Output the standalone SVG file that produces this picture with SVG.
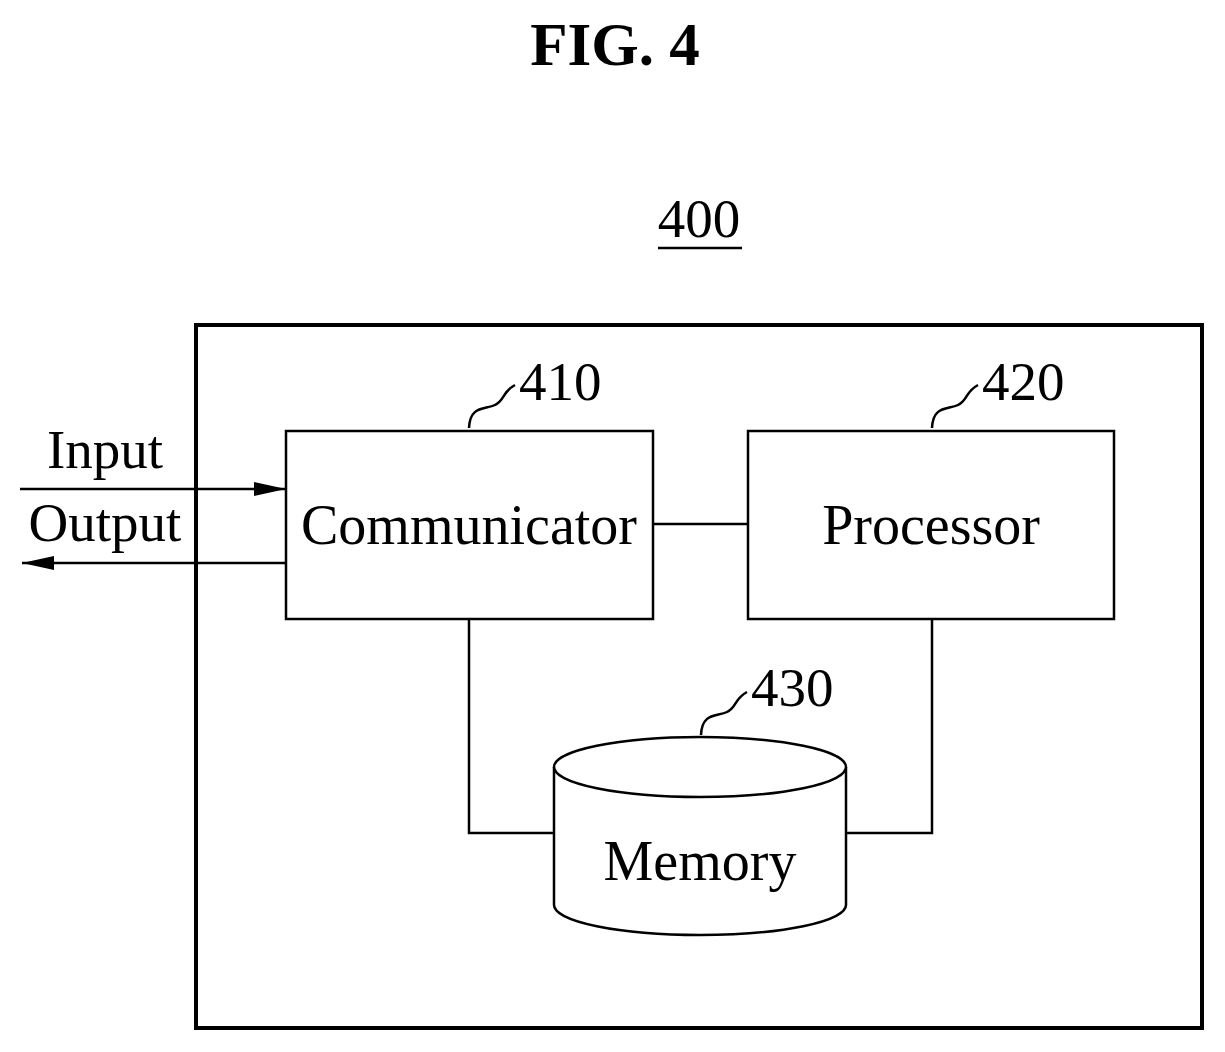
<svg xmlns="http://www.w3.org/2000/svg" width="1225" height="1052" viewBox="0 0 1225 1052">
<defs>
<style>
text{font-family:"Liberation Serif",serif;fill:#000}
.b{fill:#fff;stroke:#000;stroke-width:2.5}
.l{fill:none;stroke:#000;stroke-width:2.5}
</style>
<marker id="am" viewBox="0 0 32 14" refX="32" refY="7" markerWidth="32" markerHeight="14" markerUnits="userSpaceOnUse" orient="auto"><path d="M0,0L32,7L0,14z" fill="#000"/></marker>
</defs>
<rect width="1225" height="1052" fill="#fff"/>
<text x="615" y="65" font-size="61" font-weight="bold" text-anchor="middle">FIG. 4</text>
<text x="699" y="237" font-size="55" text-anchor="middle">400</text>
<line x1="658" y1="248" x2="742" y2="248" class="l"/>
<rect x="196" y="325" width="1006" height="703" fill="none" stroke="#000" stroke-width="4"/>
<g id="connectors">
<line x1="20" y1="489" x2="286" y2="489" class="l" marker-end="url(#am)"/>
<line x1="286" y1="563" x2="22" y2="563" class="l" marker-end="url(#am)"/>
<line x1="653" y1="524" x2="748" y2="524" class="l"/>
<polyline points="469,619 469,833 554,833" class="l"/>
<polyline points="932,619 932,833 846,833" class="l"/>
</g>
<text x="105" y="468" font-size="55" text-anchor="middle">Input</text>
<text x="105" y="541" font-size="55" text-anchor="middle">Output</text>
<g id="communicator">
<rect x="286" y="431" width="367" height="188" class="b"/>
<text x="469" y="544" font-size="56" text-anchor="middle">Communicator</text>
<path d="M469,428 C470,405 485,410 495,405 C505,400 502,392 515,385" class="l"/>
<text x="519" y="400" font-size="55">410</text>
</g>
<g id="processor">
<rect x="748" y="431" width="366" height="188" class="b"/>
<text x="931" y="544" font-size="56" text-anchor="middle">Processor</text>
<path d="M932,428 C933,405 948,410 958,405 C968,400 965,392 978,385" class="l"/>
<text x="982" y="400" font-size="55">420</text>
</g>
<g id="memory">
<path d="M554,767 L554,905 A146,30 0 0 0 846,905 L846,767" class="b"/>
<ellipse cx="700" cy="767" rx="146" ry="30" class="b"/>
<text x="700" y="880" font-size="56" text-anchor="middle">Memory</text>
<path d="M701,735 C702,712 717,717 727,712 C737,707 734,699 747,692" class="l"/>
<text x="751" y="706" font-size="55">430</text>
</g>
</svg>
